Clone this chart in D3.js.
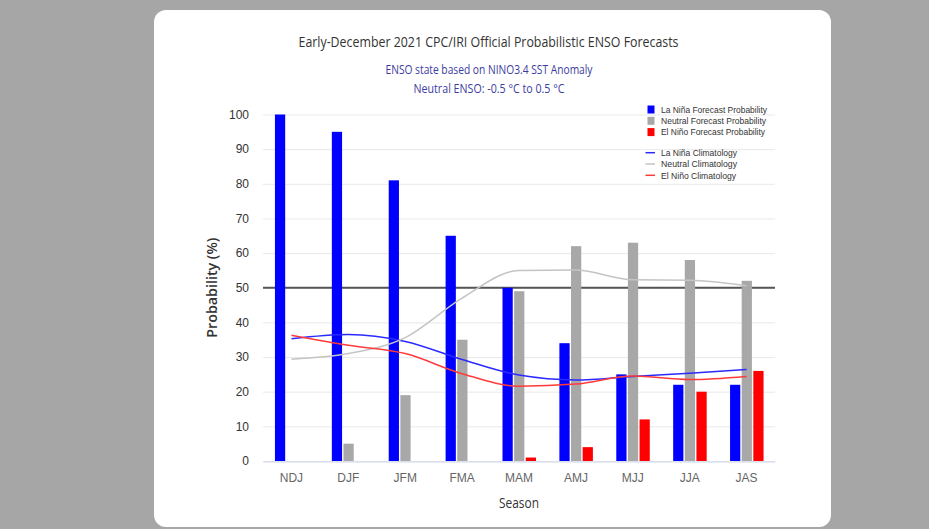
<!DOCTYPE html>
<html>
<head>
<meta charset="utf-8">
<script src="https://cdn.jsdelivr.net/npm/d3@7"></script>
<style>
  html, body { margin: 0; padding: 0; background: #a6a6a6; }
  svg { display: block; }
  text { font-family: "Open Sans", "Noto Sans", "DejaVu Sans", sans-serif; }
</style>
</head>
<body>
<svg id="chart" width="929" height="529"></svg>
<script>
// ---- Data ----
const categories = ["NDJ", "DJF", "JFM", "FMA", "MAM", "AMJ", "MJJ", "JJA", "JAS"];
const laNinaProb  = [100, 95, 81, 65, 50, 34, 25, 22, 22];
const neutralProb = [0, 5, 19, 35, 49, 62, 63, 58, 52];
const elNinoProb  = [0, 0, 0, 0, 1, 4, 12, 20, 26];
const laNinaClim  = [35.3, 36.5, 34.5, 29.3, 24.8, 23.4, 24.4, 25.3, 26.4];
const neutralClim = [29.4, 31.0, 35.6, 47.0, 55.0, 55.1, 52.3, 52.2, 50.6];
const elNinoClim  = [36.3, 33.4, 31.0, 25.2, 21.6, 22.2, 24.5, 23.5, 24.4];
const yTickValues = [0, 10, 20, 30, 40, 50, 60, 70, 80, 90, 100];
const barSeriesNames = ["La Niña Forecast Probability", "Neutral Forecast Probability", "El Niño Forecast Probability"];
const lineSeriesNames = ["La Niña Climatology", "Neutral Climatology", "El Niño Climatology"];
const titleText = "Early-December 2021 CPC/IRI Official Probabilistic ENSO Forecasts";
const subtitleLines = ["ENSO state based on NINO3.4 SST Anomaly", "Neutral ENSO: -0.5 °C to 0.5 °C"];

// ---- Styles ----
const barColors = ["#0000ff", "#a8a8a8", "#ff0000"];
const lineColors = ["#2a2aff", "#c4c4c4", "#ff3a3a"];

const svg = d3.select("#chart");

// card
svg.append("rect").attr("x", 154).attr("y", 10).attr("width", 677).attr("height", 517)
  .attr("rx", 12).attr("fill", "#ffffff");

const plot = { left: 263, right: 775, top: 114.5, bottom: 461 };

const x = d3.scaleBand().domain(categories).range([plot.left, plot.right]).padding(0);
const y = d3.scaleLinear().domain([0, 100]).range([plot.bottom, plot.top]);
const xSub = d3.scaleBand().domain([0, 1, 2]).range([-16.5, 17]).paddingInner(0.12).paddingOuter(0);

// gridlines
const grid = svg.append("g").attr("transform", `translate(${plot.left},0)`)
  .call(d3.axisLeft(y).tickValues(yTickValues).tickSize(-(plot.right - plot.left)).tickFormat(""));
grid.select(".domain").remove();
grid.selectAll("line").attr("stroke", "#e9e9e9").attr("stroke-width", 1);

// y axis labels
const yAxis = svg.append("g").attr("transform", `translate(${plot.left},0)`)
  .call(d3.axisLeft(y).tickValues(yTickValues).tickSize(0).tickPadding(14));
yAxis.select(".domain").remove();
yAxis.selectAll("text").attr("font-size", 12).attr("fill", "#333")
  .style("font-family", "'Liberation Sans', Arial, sans-serif");

// 50% line
svg.append("line").attr("x1", plot.left).attr("x2", plot.right)
  .attr("y1", y(50)).attr("y2", y(50)).attr("stroke", "#555").attr("stroke-width", 2);

// bars
const barData = [laNinaProb, neutralProb, elNinoProb];
barData.forEach((vals, si) => {
  svg.append("g").selectAll("rect").data(vals.map((v, i) => ({ c: categories[i], v })))
    .join("rect")
    .filter(d => d.v > 0)
    .attr("x", d => x(d.c) + x.bandwidth() / 2 + xSub(si))
    .attr("width", xSub.bandwidth())
    .attr("y", d => y(d.v))
    .attr("height", d => y(0) - y(d.v))
    .attr("fill", barColors[si]);
});

// x axis
const xAxis = svg.append("g").attr("transform", `translate(0,${plot.bottom + 0.5})`)
  .call(d3.axisBottom(x).tickSize(0).tickPadding(12));
xAxis.select(".domain").attr("stroke", "#ccd6eb").attr("stroke-width", 1);
xAxis.selectAll("text").attr("font-size", 12).attr("fill", "#666")
  .style("font-family", "'Liberation Sans', Arial, sans-serif");

// climatology lines
const lineData = [laNinaClim, neutralClim, elNinoClim];
const lineGen = d3.line()
  .x(d => x(d.c) + x.bandwidth() / 2)
  .y(d => y(d.v))
  .curve(d3.curveMonotoneX);
lineData.forEach((vals, si) => {
  svg.append("path")
    .datum(vals.map((v, i) => ({ c: categories[i], v })))
    .attr("d", lineGen)
    .attr("fill", "none")
    .attr("stroke", lineColors[si])
    .attr("stroke-width", 1.5);
});

// title and subtitles
svg.append("text").attr("x", 488.5).attr("y", 47).attr("text-anchor", "middle")
  .attr("font-size", 14).attr("fill", "#333")
  .attr("textLength", 380).attr("lengthAdjust", "spacingAndGlyphs")
  .text(titleText);
const subWidths = [207, 151];
subtitleLines.forEach((t, i) => {
  svg.append("text").attr("x", 489).attr("y", 74 + i * 19).attr("text-anchor", "middle")
    .attr("font-size", 12).attr("fill", "#3c3ca0")
    .attr("textLength", subWidths[i]).attr("lengthAdjust", "spacingAndGlyphs")
    .text(t);
});

// axis titles
svg.append("text")
  .attr("transform", `translate(217,${(plot.top + plot.bottom) / 2}) rotate(-90)`)
  .attr("text-anchor", "middle").attr("font-size", 13.5).attr("font-weight", 600)
  .attr("fill", "#333").attr("textLength", 100).attr("lengthAdjust", "spacingAndGlyphs")
  .text("Probability (%)");
svg.append("text").attr("x", (plot.left + plot.right) / 2).attr("y", 508)
  .attr("text-anchor", "middle").attr("font-size", 14).attr("fill", "#333")
  .attr("textLength", 40).attr("lengthAdjust", "spacingAndGlyphs")
  .text("Season");

// legend
const legendBarW = [106, 105, 104];
const legendLineW = [76, 76, 75];
const lg = svg.append("g");
const legendFont = "'Liberation Sans', Arial, sans-serif";
barSeriesNames.forEach((name, i) => {
  const cy = 109.5 + i * 11.3;
  lg.append("rect").attr("x", 647.5).attr("y", cy - 4).attr("width", 7).attr("height", 8)
    .attr("fill", barColors[i]);
  lg.append("text").attr("x", 661).attr("y", cy + 3.3).attr("font-size", 9.5).attr("fill", "#333")
    .style("font-family", legendFont)
    .attr("textLength", legendBarW[i]).attr("lengthAdjust", "spacingAndGlyphs").text(name);
});
lineSeriesNames.forEach((name, i) => {
  const cy = 152.7 + i * 11.3;
  lg.append("line").attr("x1", 645.5).attr("x2", 655).attr("y1", cy).attr("y2", cy)
    .attr("stroke", lineColors[i]).attr("stroke-width", 1.5);
  lg.append("text").attr("x", 661).attr("y", cy + 3.3).attr("font-size", 9.5).attr("fill", "#333")
    .style("font-family", legendFont)
    .attr("textLength", legendLineW[i]).attr("lengthAdjust", "spacingAndGlyphs").text(name);
});
</script>
</body>
</html>
